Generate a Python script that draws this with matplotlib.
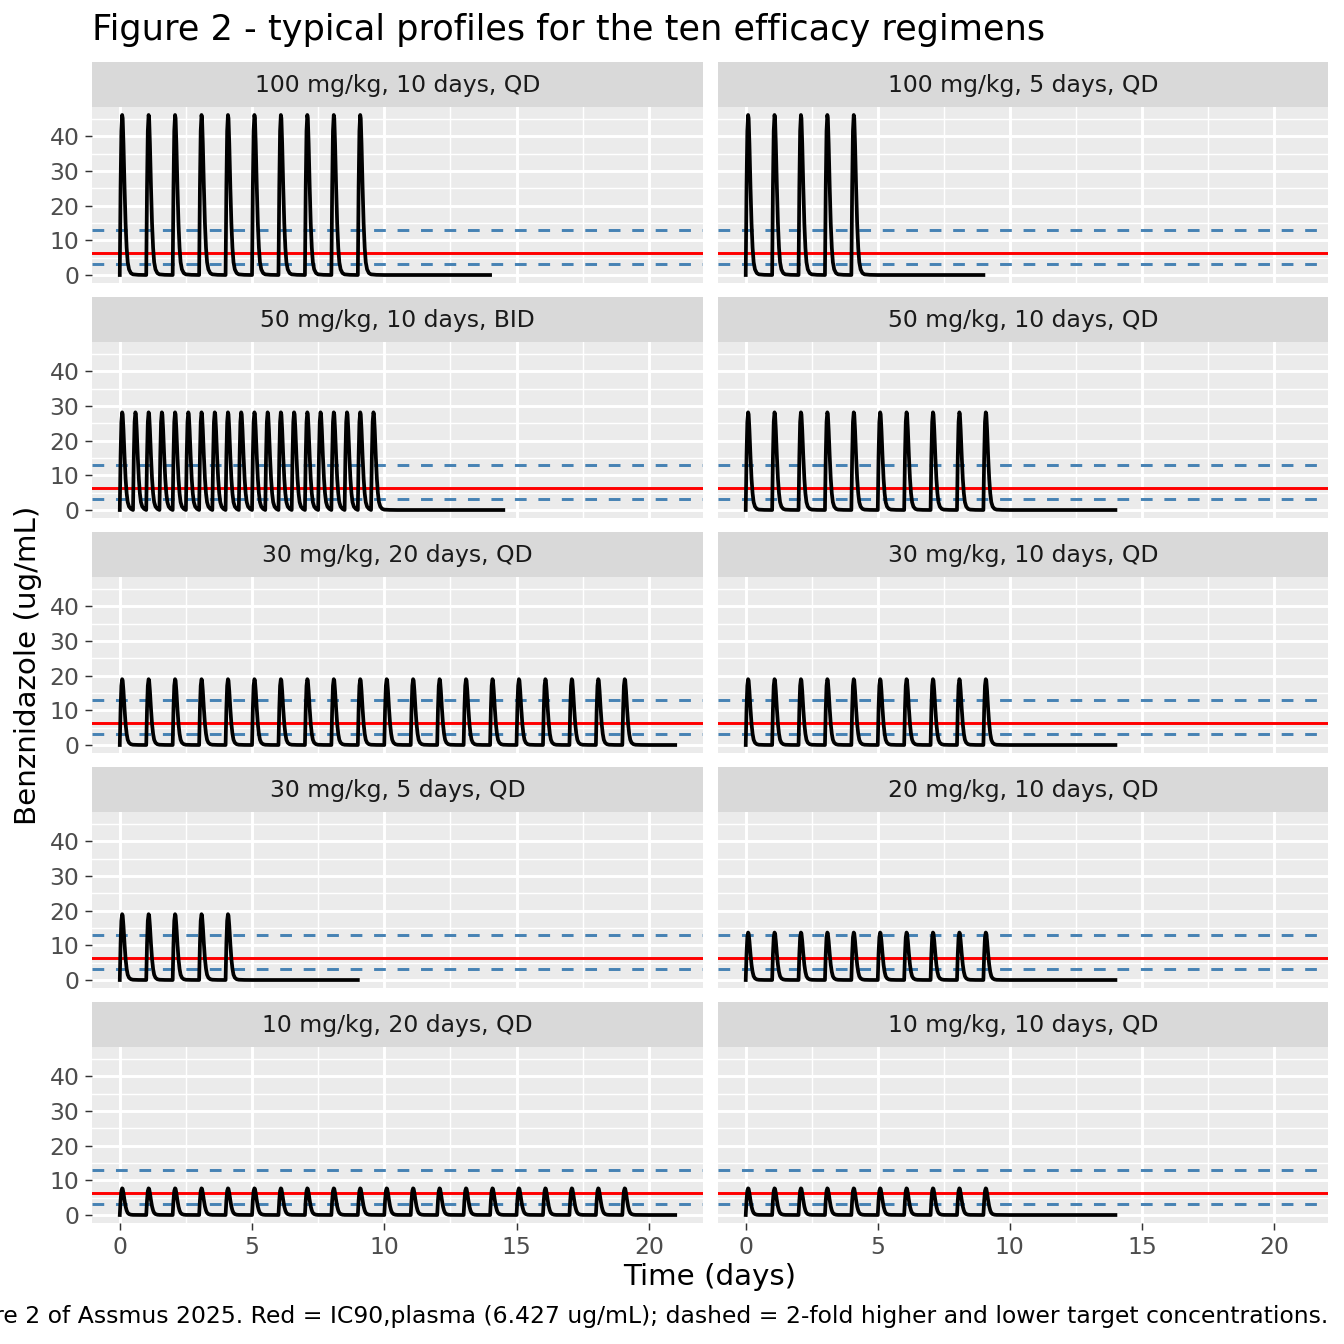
import numpy as np
import matplotlib
matplotlib.use("Agg")
import matplotlib.pyplot as plt

# ---- data ----
panel_labels = [
    "100 mg/kg, 10 days, QD", "100 mg/kg, 5 days, QD",
    "50 mg/kg, 10 days, BID", "50 mg/kg, 10 days, QD",
    "30 mg/kg, 20 days, QD", "30 mg/kg, 10 days, QD",
    "30 mg/kg, 5 days, QD", "20 mg/kg, 10 days, QD",
    "10 mg/kg, 20 days, QD", "10 mg/kg, 10 days, QD",
]
n_days = [10, 5, 10, 10, 20, 10, 5, 10, 20, 10]
doses_per_day = [1, 1, 2, 1, 1, 1, 1, 1, 1, 1]
peak_conc = [46.2, 46.2, 28.2, 28.2, 19.0, 19.0, 19.0, 13.7, 7.7, 7.7]
end_time = [14, 9, 14.5, 14, 21, 14, 9, 14, 21, 14]

prof_t = [0, 0.03, 0.06, 0.09, 0.11, 0.14, 0.18, 0.22, 0.26, 0.30, 0.35, 0.42, 0.50, 0.70, 1.00]
prof_f = [0, 0.55, 0.90, 1.00, 0.98, 0.82, 0.55, 0.32, 0.17, 0.08, 0.035, 0.012, 0.004, 0.001, 0.0]

ic90 = 6.427
targets = [ic90 * 2, ic90 / 2]

# ---- style ----
PANEL_BG = "#EBEBEB"
STRIP_BG = "#D9D9D9"
W = H = 1344.0

fig = plt.figure(figsize=(7, 7), dpi=192)


def box(x0, y0, x1, y1):
    return [x0 / W, 1 - y1 / H, (x1 - x0) / W, (y1 - y0) / H]


col_x = [(92, 703), (718, 1328)]
row_step = 235
pt = np.array(prof_t)
pf = np.array(prof_f)

for i, label in enumerate(panel_labels):
    r, c = divmod(i, 2)
    x0, x1 = col_x[c]
    s_top = 62 + row_step * r
    p_top = 107 + row_step * r
    p_bot = 283 + row_step * r

    # strip
    sax = fig.add_axes(box(x0, s_top, x1, p_top))
    sax.set_facecolor(STRIP_BG)
    sax.set_xticks([]); sax.set_yticks([])
    for sp in sax.spines.values():
        sp.set_visible(False)
    sax.text(0.5, 0.47, label, ha="center", va="center", fontsize=8.8,
             color="#1A1A1A", transform=sax.transAxes)

    ax = fig.add_axes(box(x0, p_top, x1, p_bot))
    ax.set_facecolor(PANEL_BG)
    for sp in ax.spines.values():
        sp.set_visible(False)

    # build the concentration curve from the single-dose shape
    interval = 1.0 / doses_per_day[i]
    n = n_days[i] * doses_per_day[i]
    ts, cs = [], []
    for k in range(n):
        d = k * interval
        if k < n - 1:
            m = pt < interval
        else:
            m = np.ones_like(pt, dtype=bool)
        ts.extend(d + pt[m])
        cs.extend(peak_conc[i] * pf[m])
    ts.append(end_time[i]); cs.append(0.0)

    ax.axhline(ic90, color="red", lw=1.1, zorder=3)
    for tv in targets:
        ax.axhline(tv, color="steelblue", lw=1.1, ls=(0, (4, 4)), zorder=3)
    ax.plot(ts, cs, color="black", lw=1.4, zorder=4)

    ax.set_xlim(-1.05, 22.05)
    ax.set_ylim(-2.31, 48.51)
    ax.set_xticks([0, 5, 10, 15, 20])
    ax.set_xticks([2.5, 7.5, 12.5, 17.5], minor=True)
    ax.set_yticks([0, 10, 20, 30, 40])
    ax.set_yticks([5, 15, 25, 35, 45], minor=True)
    ax.grid(which="major", color="white", lw=1.1)
    ax.grid(which="minor", color="white", lw=0.55)
    ax.set_axisbelow(True)
    ax.tick_params(which="minor", length=0)
    ax.tick_params(which="major", length=2.75, width=0.55, color="#333333",
                   labelsize=8.8, labelcolor="#4D4D4D", pad=2)
    if c == 1:
        ax.tick_params(axis="y", which="major", length=0, labelleft=False)
    if r < 4:
        ax.tick_params(axis="x", which="major", length=0, labelbottom=False)

fig.text(92 / W, 1 - 30 / H, "Figure 2 - typical profiles for the ten efficacy regimens",
         ha="left", va="center", fontsize=13.2, color="black")
fig.text(710 / W, 1 - 1277 / H, "Time (days)", ha="center", va="center", fontsize=11)
fig.text(28 / W, 1 - 665 / H, "Benznidazole (ug/mL)", ha="center", va="center",
         rotation=90, fontsize=11)
# caption is right-aligned and runs past the left edge, as in the reference
fig.text(1328 / W, 1 - 1316 / H,
         "Figure 2 of Assmus 2025. Red = IC90,plasma (6.427 ug/mL); dashed = 2-fold higher and lower target concentrations.",
         ha="right", va="center", fontsize=8.8)

fig.savefig("out.png", dpi=192)
